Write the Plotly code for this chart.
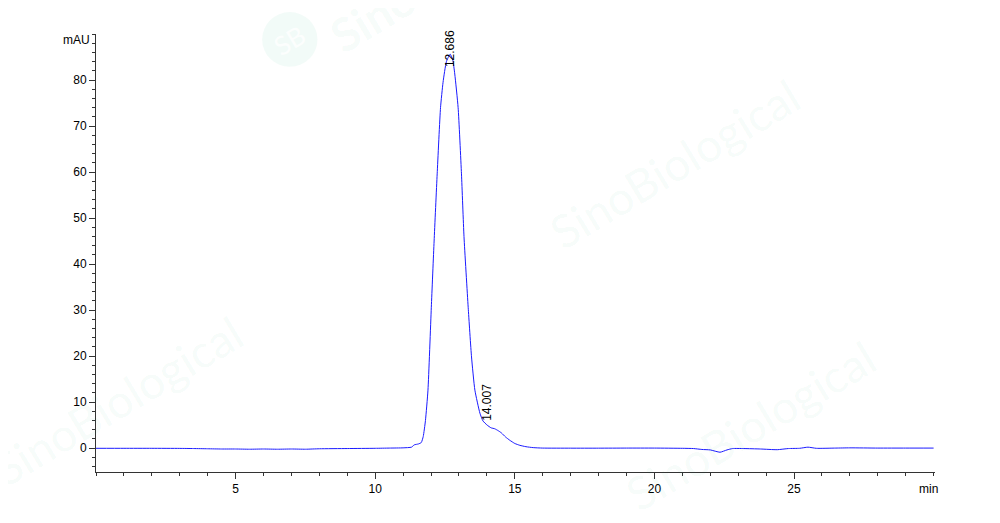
import plotly.graph_objects as go

# retention time (min) and absorbance (mAU)
time_min = [0, 1, 2, 3, 3.5, 4, 4.5, 5, 5.5, 6, 6.5, 7, 7.5, 8, 9, 10, 10.5, 11,
            11.3, 11.4, 11.55, 11.65, 11.72, 11.8, 11.89, 12.01, 12.11, 12.22, 12.34,
            12.43, 12.55, 12.686, 12.78, 12.85, 12.97, 13.09, 13.18, 13.33, 13.45,
            13.57, 13.75, 13.86, 14.007, 14.15, 14.28, 14.4, 14.52, 14.67, 14.82,
            15.0, 15.18, 15.4, 15.66, 16, 17, 18, 19, 20, 21, 21.4, 21.7, 22.0,
            22.35, 22.6, 22.8, 23.2, 23.8, 24.4, 24.8, 25.2, 25.5, 25.8, 26.5, 27,
            28, 29, 30]
mau = [-0.05, -0.05, -0.05, -0.07, -0.1, -0.15, -0.2, -0.2, -0.25, -0.2, -0.25, -0.2,
       -0.25, -0.15, -0.1, -0.05, 0.0, 0.05,
       0.2, 0.7, 0.9, 1.2, 2.5, 6.0, 12.6, 30.6, 45.0, 59.6, 74.0,
       79.5, 84.0, 85.6, 84.3, 81.3, 74.0, 59.6, 46.0, 30.6, 19.8,
       12.6, 7.6, 5.9, 5.0, 4.4, 4.2, 3.8, 3.3, 2.4, 1.7,
       1.0, 0.6, 0.3, 0.1, 0.0, -0.02, -0.02, 0.0, 0.0, -0.05, -0.1, -0.3, -0.4,
       -0.9, -0.4, -0.1, -0.1, -0.2, -0.35, -0.1, -0.05, 0.2, -0.05, 0.0, 0.05,
       0.0, 0.0, 0.0]

peak_times = [12.686, 14.007]
peak_label_y = [82.3, 5.4]

font = "Liberation Sans, Arial, sans-serif"
wm_color = "rgba(0,170,120,0.05)"

fig = go.Figure()
fig.add_trace(go.Scatter(x=time_min, y=mau, mode="lines",
                         line=dict(color="#1a1aff", width=1, shape="spline", smoothing=0.5),
                         hoverinfo="x+y", showlegend=False))

# faint watermarks
for wx, wy in [(0.69, 0.705), (0.026, 0.164), (0.78, 0.107)]:
    fig.add_annotation(x=wx, y=wy, xref="paper", yref="paper", text="SinoBiological",
                       showarrow=False, textangle=-31, xanchor="center", yanchor="middle",
                       font=dict(family="Lato, sans-serif", size=46, color=wm_color))
fig.add_shape(type="circle", xref="paper", yref="paper", x0=0.198, x1=0.264, y0=0.925, y1=1.05,
              fillcolor=wm_color, line=dict(width=0), layer="below")
fig.add_annotation(x=0.231, y=0.986, xref="paper", yref="paper", text="SB", showarrow=False,
                   textangle=-31, xanchor="center", yanchor="middle",
                   font=dict(family="Lato, sans-serif", size=26, color="rgba(255,255,255,0.8)"))
fig.add_annotation(x=0.33, y=1.04, xref="paper", yref="paper", text="<b>Sino</b>", showarrow=False,
                   textangle=-31, xanchor="center", yanchor="middle",
                   font=dict(family="Lato, sans-serif", size=46, color=wm_color))

for t, ly in zip(peak_times, peak_label_y):
    fig.add_annotation(x=t, y=ly, text=f"{t:.3f}", showarrow=False, textangle=-90,
                       xanchor="center", yanchor="bottom",
                       font=dict(family=font, size=12, color="black"))

fig.add_annotation(x=0, y=88.8, xref="x", yref="y", text="mAU", showarrow=False,
                   xanchor="right", yanchor="middle", xshift=-4,
                   font=dict(family=font, size=12, color="black"))
fig.add_annotation(x=29.8, y=0, xref="x", yref="paper", text="min", showarrow=False,
                   xanchor="center", yanchor="top", yshift=-8,
                   font=dict(family=font, size=12, color="black"))

axis_common = dict(showgrid=False, zeroline=False, showline=True, linecolor="#333",
                   linewidth=1, ticks="outside", tickcolor="#333", ticklen=6,
                   tickfont=dict(family=font, size=12, color="black"))
fig.update_xaxes(range=[0, 30.05], tickmode="array", tickvals=[5, 10, 15, 20, 25],
                 minor=dict(ticks="outside", dtick=1, ticklen=3, tickcolor="#333"),
                 **axis_common)
fig.update_yaxes(range=[-5.2, 90], tickmode="array", tickvals=[0, 10, 20, 30, 40, 50, 60, 70, 80],
                 minor=dict(ticks="outside", dtick=2, tick0=0, ticklen=3, tickcolor="#333"),
                 **axis_common)

# page body adds an 8px offset, so margins are shifted to compensate
fig.update_layout(width=1000, height=523, plot_bgcolor="white", paper_bgcolor="white",
                  margin=dict(l=88, r=73, t=26, b=59))

fig.write_html("out.html")
